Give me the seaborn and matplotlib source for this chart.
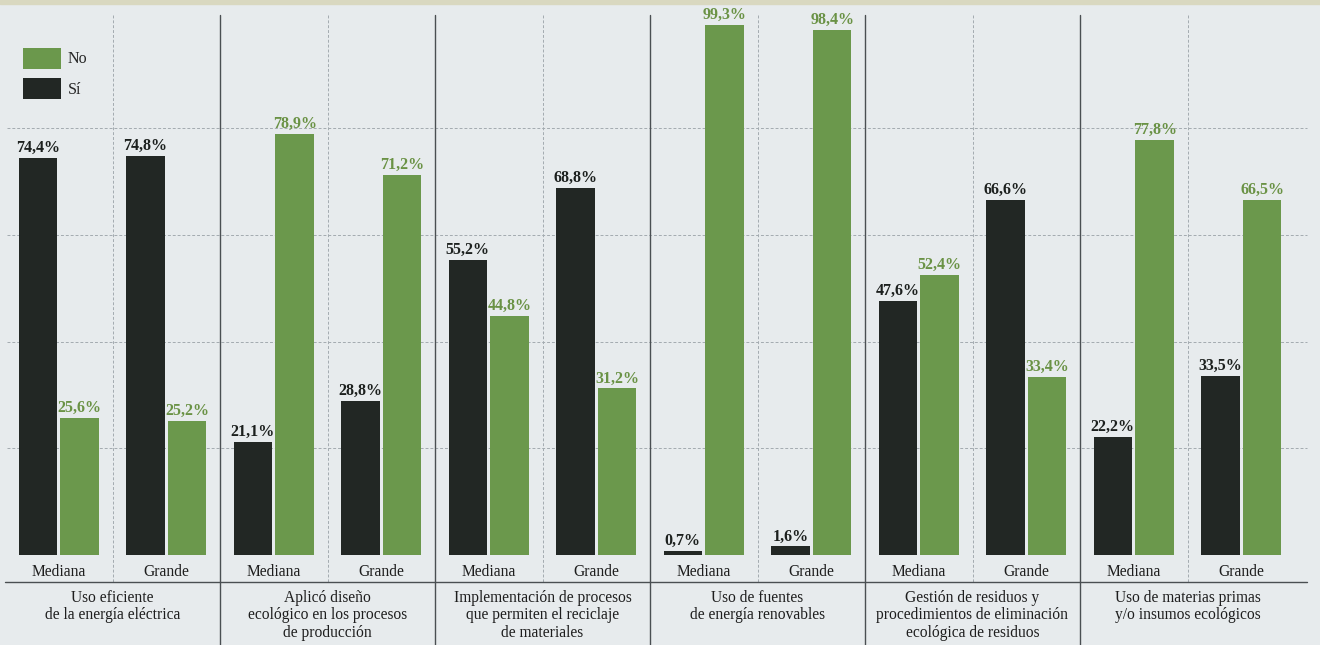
import numpy as np
import pandas as pd
import matplotlib
matplotlib.use("Agg")
import matplotlib.pyplot as plt
from matplotlib.patches import Patch, Rectangle
import seaborn as sns

# ---------------- data ----------------
categories = [
    "Uso eficiente\nde la energía eléctrica",
    "Aplicó diseño\necológico en los procesos\nde producción",
    "Implementación de procesos\nque permiten el reciclaje\nde materiales",
    "Uso de fuentes\nde energía renovables",
    "Gestión de residuos y\nprocedimientos de eliminación\necológica de residuos",
    "Uso de materias primas\ny/o insumos ecológicos",
]
sizes = ["Mediana", "Grande"]
responses = ["Sí", "No"]
legend_order = ["No", "Sí"]
# order: cat1-Mediana, cat1-Grande, cat2-Mediana, ...
si_values = [74.4, 74.8, 21.1, 28.8, 55.2, 68.8, 0.7, 1.6, 47.6, 66.6, 22.2, 33.5]
no_values = [25.6, 25.2, 78.9, 71.2, 44.8, 31.2, 99.3, 98.4, 52.4, 33.4, 77.8, 66.5]

# ---------------- style ----------------
BG = "#e7ebed"
GREEN = "#6b984c"
BLACK = "#222724"
GREEN_TXT = "#6a9245"
BLACK_TXT = "#1c201e"
LINE = "#4a4f52"
GRID = "#a3abb0"

sns.set_theme(style="white")
plt.rcParams["font.family"] = ["Liberation Serif", "DejaVu Serif"]

W, H = 1320, 645
PX_PER = 5.337          # pixels per percentage point
BASE_PX = 555           # baseline (pixels from top)
SUB_W = 107.5           # pixel width of one subgroup
X0 = 5                  # left pixel of first subgroup

def ypx(p):
    """pixel row (from top) -> data y"""
    return (BASE_PX - p) / PX_PER

def xpx(p):
    """pixel column -> data x"""
    return -0.5 + (p - X0) / SUB_W

fig = plt.figure(figsize=(W / 100, H / 100), dpi=100, facecolor=BG)
ax = fig.add_axes([0, (H - BASE_PX) / H, 1, BASE_PX / H])
ax.set_facecolor(BG)

sub_keys = [f"{i}-{s}" for i in range(len(categories)) for s in sizes]
rows = []
for k, key in enumerate(sub_keys):
    rows.append({"sub": key, "resp": "Sí", "val": si_values[k]})
    rows.append({"sub": key, "resp": "No", "val": no_values[k]})
df = pd.DataFrame(rows)

sns.barplot(data=df, x="sub", y="val", hue="resp", order=sub_keys,
            hue_order=responses, palette={"Sí": BLACK, "No": GREEN},
            width=0.78, gap=0.08, saturation=1, errorbar=None,
            linewidth=0, ax=ax, zorder=3)

ax.set_xlim(xpx(0), xpx(W))
ax.set_ylim(0, ypx(0))
ax.set_xlabel("")
ax.set_ylabel("")
ax.set_xticks([])
ax.set_yticks([])
for sp in ax.spines.values():
    sp.set_visible(False)
if ax.get_legend() is not None:
    ax.get_legend().remove()

# gridlines
ax.hlines([20, 40, 60, 80], xpx(7), xpx(1307), colors=GRID,
          linestyles=(0, (3, 2)), linewidth=0.7, zorder=1)

# vertical separators
n_sub = len(sub_keys)
for j in range(n_sub - 1):
    xb = j + 0.5
    if j % 2 == 0:   # between Mediana and Grande
        ax.plot([xb, xb], [ypx(15), ypx(582)], color=GRID, lw=0.7,
                ls=(0, (3, 2)), clip_on=False, zorder=1)
    else:            # between categories
        ax.plot([xb, xb], [ypx(15), ypx(H)], color=LINE, lw=1.0,
                clip_on=False, zorder=1)

# horizontal rule under size labels
ax.plot([xpx(5), xpx(1307)], [ypx(582), ypx(582)], color=LINE, lw=1.0,
        clip_on=False)

# value labels
fmt = lambda v: f"{v:.1f}".replace(".", ",") + "%"
for cont, resp in zip(ax.containers, responses):
    vals = si_values if resp == "Sí" else no_values
    ax.bar_label(cont, labels=[fmt(v) for v in vals], padding=1.5,
                 fontsize=11.5, fontweight="bold",
                 color=BLACK_TXT if resp == "Sí" else GREEN_TXT)

# size labels
for k, key in enumerate(sub_keys):
    ax.text(k, ypx(572), sizes[k % 2], ha="center", va="center",
            fontsize=11.2, color="#1e1e1e", clip_on=False)

# category labels
for i, cat in enumerate(categories):
    ax.text(2 * i + 0.5, ypx(590), cat, ha="center", va="top",
            fontsize=11.2, color="#1e1e1e", linespacing=1.12,
            clip_on=False)

# top strip
fig.patches.append(Rectangle((0, 1 - 4 / H), 1, 4 / H,
                             transform=fig.transFigure,
                             color="#d9d8c0", zorder=0))

# legend
handles = [Patch(facecolor=GREEN if r == "No" else BLACK, edgecolor="none")
           for r in legend_order]
fig.legend(handles, legend_order, loc="upper left",
           bbox_to_anchor=(23 / W, 1 - 48 / H), frameon=False,
           fontsize=11.5, handlelength=2.35, handleheight=1.6,
           labelspacing=0.6, handletextpad=0.45, borderpad=0,
           borderaxespad=0)

fig.savefig("out.png", dpi=100, facecolor=BG)
